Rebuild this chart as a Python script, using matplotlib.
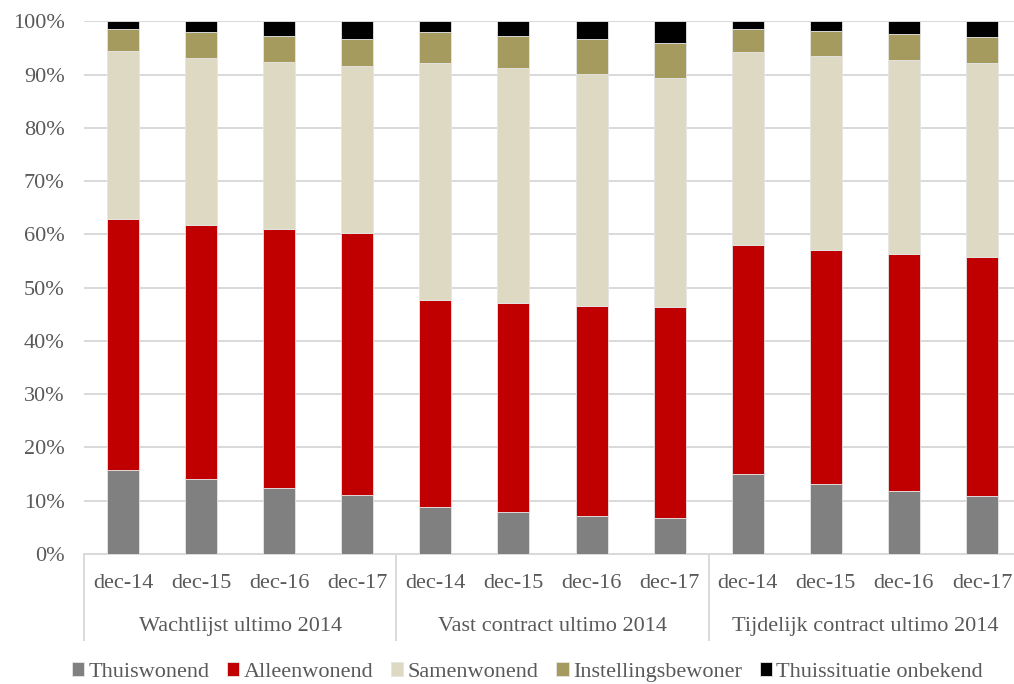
import matplotlib.pyplot as plt

# categorieen en groepen
jaren = ["dec-14", "dec-15", "dec-16", "dec-17"] * 3
groepen = ["Wachtlijst ultimo 2014", "Vast contract ultimo 2014", "Tijdelijk contract ultimo 2014"]

# aandelen in procenten per woonsituatie
thuiswonend = [15.8, 14.0, 12.3, 11.0, 8.8, 7.9, 7.2, 6.7, 15.0, 13.2, 11.9, 10.8]
alleenwonend = [47.0, 47.8, 48.7, 49.3, 38.9, 39.2, 39.4, 39.6, 43.0, 43.9, 44.4, 44.9]
samenwonend = [31.7, 31.4, 31.3, 31.4, 44.4, 44.1, 43.6, 43.1, 36.2, 36.4, 36.4, 36.5]
instelling = [4.1, 4.7, 4.9, 4.9, 5.8, 6.1, 6.4, 6.6, 4.4, 4.6, 4.9, 4.8]
onbekend = [1.4, 2.1, 2.8, 3.4, 2.1, 2.7, 3.4, 4.0, 1.4, 1.9, 2.4, 3.0]

reeksen = [
    ("Thuiswonend", thuiswonend, "#808080"),
    ("Alleenwonend", alleenwonend, "#C00000"),
    ("Samenwonend", samenwonend, "#DDD9C3"),
    ("Instellingsbewoner", instelling, "#A59B5F"),
    ("Thuissituatie onbekend", onbekend, "#000000"),
]

plt.rcParams['font.family'] = ['Liberation Serif', 'DejaVu Serif']
tekstkleur = "#595959"
fs = 16

fig = plt.figure(figsize=(10.14, 6.84), dpi=100)
ax = fig.add_axes([84 / 1014, 130 / 684, 937 / 1014, 532.7 / 684])

x = list(range(len(jaren)))
onder = [0.0] * len(jaren)
for naam, waarden, kleur in reeksen:
    ax.bar(x, waarden, width=0.41, bottom=onder, color=kleur, label=naam,
           edgecolor="#e6e6e6", linewidth=0.6, zorder=3)
    onder = [o + w for o, w in zip(onder, waarden)]

ax.set_xlim(-0.5, len(jaren) - 0.5)
ax.set_ylim(0, 100)
ax.set_yticks(range(0, 101, 10))
ax.set_yticklabels([f"{v}%" for v in range(0, 101, 10)])
ax.tick_params(axis="y", length=0, pad=14, labelsize=fs, labelcolor=tekstkleur)
ax.set_xticks([])
ax.grid(axis="y", color="#d9d9d9", linewidth=1.4, zorder=0)
for kant in ["left", "right", "top"]:
    ax.spines[kant].set_visible(False)
ax.spines["bottom"].set_color("#d9d9d9")
ax.spines["bottom"].set_linewidth(1.4)

# twee-niveau categorie-as
trans = ax.get_xaxis_transform()
for i, jaar in enumerate(jaren):
    ax.text(i, -0.055, jaar, transform=trans, ha="center", va="center",
            fontsize=fs, color=tekstkleur)
for g, groep in enumerate(groepen):
    ax.text(g * 4 + 1.5, -0.137, groep, transform=trans, ha="center", va="center",
            fontsize=fs, color=tekstkleur)
for grens in [-0.5, 3.5, 7.5, 11.5]:
    ax.plot([grens, grens], [0, -0.162], transform=trans, color="#d9d9d9",
            linewidth=1.4, clip_on=False)

fig.legend(loc="center", bbox_to_anchor=(0.52, 12 / 684), ncol=5, frameon=False,
           fontsize=fs, handlelength=0.55, handleheight=0.55, handletextpad=0.2,
           columnspacing=0.8, labelcolor=tekstkleur)

fig.savefig("out.png", dpi=100)
